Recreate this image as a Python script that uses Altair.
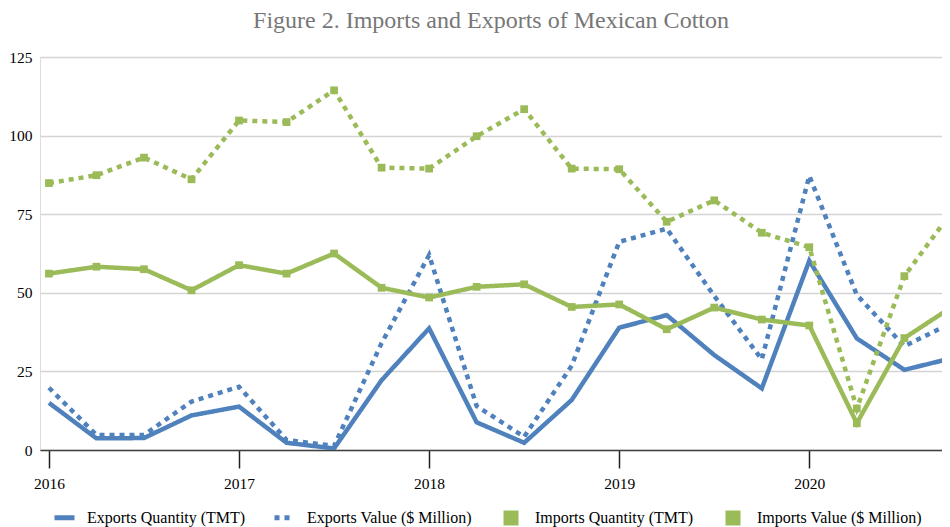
import altair as alt
import pandas as pd

# ---- data ----
quarters = [
    "2016-Q1", "2016-Q2", "2016-Q3", "2016-Q4",
    "2017-Q1", "2017-Q2", "2017-Q3", "2017-Q4",
    "2018-Q1", "2018-Q2", "2018-Q3", "2018-Q4",
    "2019-Q1", "2019-Q2", "2019-Q3", "2019-Q4",
    "2020-Q1", "2020-Q2", "2020-Q3", "2020-Q4",
]
exports_qty = [15.0, 3.7, 3.8, 11.0, 13.8, 2.3, 0.5, 22.2, 38.7, 8.8,
               2.3, 15.9, 38.9, 42.9, 30.2, 19.6, 60.2, 35.5, 25.5, 29.2]
exports_val = [19.8, 4.8, 4.8, 15.4, 20.1, 3.2, 1.3, 34.0, 62.0, 14.0,
               4.2, 26.8, 66.2, 70.4, 49.0, 28.8, 87.2, 49.3, 33.0, 40.5]
imports_qty = [56.1, 58.3, 57.5, 50.8, 58.8, 56.1, 62.5, 51.6, 48.5, 51.9,
               52.7, 45.5, 46.3, 38.4, 45.3, 41.5, 39.6, 8.5, 35.6, 45.5]
imports_val = [84.9, 87.4, 93.0, 86.1, 104.8, 104.3, 114.4, 89.8, 89.5, 99.8,
               108.4, 89.5, 89.3, 72.6, 79.4, 69.1, 64.5, 13.2, 55.3, 75.8]

series_names = ["Exports Quantity (TMT)", "Exports Value ($ Million)",
                "Imports Quantity (TMT)", "Imports Value ($ Million)"]
series_colors = ["#4f81bd", "#4f81bd", "#9bbb59", "#9bbb59"]
series_dashes = [[1, 0], [5, 5], [1, 0], [5, 5]]
year_ticks = [2016, 2017, 2018, 2019, 2020]
y_ticks = [0, 25, 50, 75, 100, 125]
title_text = "Figure 2. Imports and Exports of Mexican Cotton"


def qnum(q):
    y, qq = q.split("-Q")
    return int(y) + (int(qq) - 1) / 4.0


rows = []
for name, vals in zip(series_names, [exports_qty, exports_val, imports_qty, imports_val]):
    for q, v in zip(quarters, vals):
        rows.append({"t": qnum(q), "value": v, "series": name,
                     "order": series_names.index(name)})
df = pd.DataFrame(rows)

FONT = "Liberation Serif"

legend_lines = alt.Legend(
    title=None, orient="none", direction="horizontal", columns=2,
    legendX=12, legendY=448, values=series_names[:2],
    labelFont=FONT, labelFontSize=16, labelColor="#000000", labelLimit=400,
    symbolType="stroke", symbolStrokeWidth=5, symbolSize=400,
    labelOffset=10, columnPadding=18,
)
legend_squares = alt.Legend(
    title=None, orient="none", direction="horizontal", columns=2,
    legendX=463, legendY=453,
    labelFont=FONT, labelFontSize=16, labelColor="#000000", labelLimit=400,
    symbolType="square", symbolStrokeWidth=0, symbolSize=225,
    labelOffset=16, columnPadding=31,
)

x_enc = alt.X(
    "t:Q",
    scale=alt.Scale(domain=[2015.953, 2020.698], nice=False, zero=False),
    axis=alt.Axis(values=year_ticks, format="d", title=None, grid=False,
                  domainColor="#404040", domainWidth=1.5,
                  tickColor="#202020", tickWidth=1.5, tickSize=18,
                  labelPadding=8),
)
y_enc = alt.Y(
    "value:Q",
    scale=alt.Scale(domain=[0, 125], nice=False),
    axis=alt.Axis(values=y_ticks, title=None, domain=False, ticks=False,
                  grid=True, gridColor="#d4d4d4", gridWidth=1.5,
                  labelPadding=8),
)

lines = alt.Chart(df).mark_line(strokeWidth=4.5, clip=True).encode(
    x=x_enc, y=y_enc,
    color=alt.Color("series:N", scale=alt.Scale(domain=series_names, range=series_colors),
                    legend=legend_lines),
    strokeDash=alt.StrokeDash("series:N",
                              scale=alt.Scale(domain=series_names, range=series_dashes),
                              legend=legend_lines),
    order="order:Q",
)

points = alt.Chart(df).transform_filter(
    alt.FieldOneOfPredicate(field="series", oneOf=series_names[2:])
).mark_square(size=60, opacity=1, filled=True, clip=True).encode(
    x=x_enc, y=y_enc,
    fill=alt.Fill("series:N",
                  scale=alt.Scale(domain=series_names[2:], range=series_colors[2:]),
                  legend=legend_squares),
)

chart = alt.layer(lines, points).resolve_scale(
    color="independent", fill="independent", strokeDash="independent"
).properties(
    width=902, height=393,
    autosize=alt.AutoSizeParams(type="none"),
    padding={"left": 32, "top": 49, "right": 0, "bottom": 77},
    title=alt.TitleParams(title_text, font=FONT, fontSize=24, fontWeight="normal",
                          color="#777777", anchor="middle", offset=17),
).configure_view(stroke=None).configure(background="#ffffff").configure_axis(
    labelFont=FONT, labelFontSize=15.5, labelColor="#000000"
).configure_legend(labelFont=FONT)

chart.save("out.html", embed_options={"renderer": "svg", "actions": False})
